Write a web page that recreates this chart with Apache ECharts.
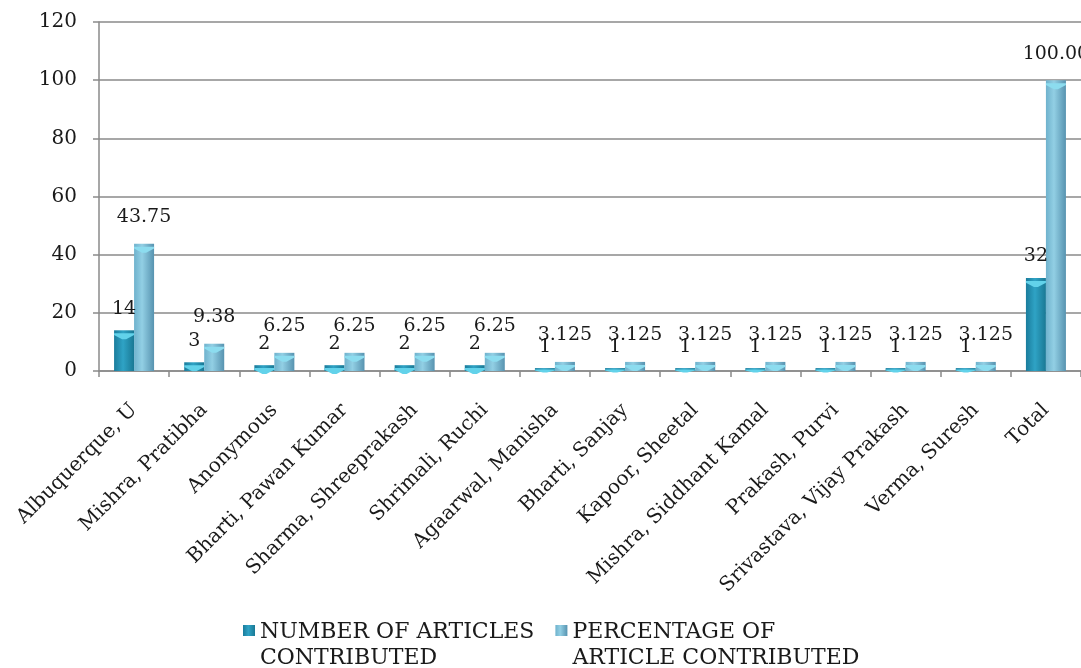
<!DOCTYPE html>
<html>
<head>
<meta charset="utf-8">
<script src="https://cdn.jsdelivr.net/npm/echarts@6/dist/echarts.min.js"></script>
<style>
html,body{margin:0;padding:0;background:#fff;}
#chart{width:1081px;height:668px;}
</style>
</head>
<body>
<div id="chart"></div>
<script>
var categories = ['Albuquerque, U','Mishra, Pratibha','Anonymous','Bharti, Pawan Kumar','Sharma, Shreeprakash','Shrimali, Ruchi','Agaarwal, Manisha','Bharti, Sanjay','Kapoor, Sheetal','Mishra, Siddhant Kamal','Prakash, Purvi','Srivastava, Vijay Prakash','Verma, Suresh','Total'];
var articleCounts = [14,3,2,2,2,2,1,1,1,1,1,1,1,32];
var articlePercents = [43.75,9.38,6.25,6.25,6.25,6.25,3.125,3.125,3.125,3.125,3.125,3.125,3.125,100];
var seriesNames = ['NUMBER OF ARTICLES CONTRIBUTED','PERCENTAGE OF ARTICLE CONTRIBUTED'];
var legendLines = {
  'NUMBER OF ARTICLES CONTRIBUTED': 'NUMBER OF ARTICLES\nCONTRIBUTED',
  'PERCENTAGE OF ARTICLE CONTRIBUTED': 'PERCENTAGE OF\nARTICLE CONTRIBUTED'
};
var yTicks = {min:0, max:120, interval:20};

var FONT = 'DejaVu Serif';
var chart = echarts.init(document.getElementById('chart'), null, {renderer:'canvas'});

function hGrad(stops){
  return new echarts.graphic.LinearGradient(0,0,1,0, stops.map(function(s){return {offset:s[0], color:s[1]};}));
}
var countColor = hGrad([[0,'#1a7c9c'],[0.45,'#2fa3c5'],[1,'#197894']]);
var pctColor = hGrad([[0,'#6fb2cd'],[0.4,'#92cfe4'],[1,'#5793b0']]);
var capPath = 'path://M0,0 L20,0 L20,2 L12,7 L8,7 L0,2 Z';
// legend icon: square at the top of a tall, otherwise empty box (so it sits on the first text line)
var legendIcon = 'path://M0,0 L12,0 L12,11 L0,11 Z M0,40 L0.01,40 L0,39.99 Z';

var option = {
  backgroundColor:'#ffffff',
  animation:false,
  textStyle:{fontFamily:FONT},
  grid:{left:99, top:22, width:988, height:349, containLabel:false},
  legend:{
    data:seriesNames,
    left:238, top:614,
    itemWidth:12, itemHeight:40, itemGap:21,
    icon:legendIcon,
    formatter:function(n){return legendLines[n];},
    textStyle:{fontFamily:FONT, fontSize:22, color:'#1a1a1a', lineHeight:26}
  },
  xAxis:{
    type:'category',
    data:categories,
    boundaryGap:true,
    axisLine:{lineStyle:{color:'#8a8a8a', width:1.5}},
    axisTick:{show:true, alignWithLabel:false, length:6, lineStyle:{color:'#8a8a8a', width:1.5}},
    axisLabel:{rotate:45, interval:0, margin:36, fontFamily:FONT, fontSize:20, color:'#1a1a1a'}
  },
  yAxis:{
    type:'value',
    min:yTicks.min, max:yTicks.max, interval:yTicks.interval,
    axisLine:{show:true, lineStyle:{color:'#8a8a8a', width:1.5}},
    axisTick:{show:true, length:6, lineStyle:{color:'#8a8a8a', width:1.5}},
    splitLine:{lineStyle:{color:'#8a8a8a', width:1.5}},
    axisLabel:{margin:22, fontFamily:FONT, fontSize:20, color:'#1a1a1a'}
  },
  series:[
    {
      name:seriesNames[0], type:'bar', data:articleCounts,
      barWidth:20, barGap:'0%',
      itemStyle:{color:countColor},
      label:{show:true, position:'top', distance:12, fontFamily:FONT, fontSize:19, color:'#1a1a1a'}
    },
    {
      name:seriesNames[1], type:'bar', data:articlePercents,
      barWidth:20, barGap:'0%',
      itemStyle:{color:pctColor},
      label:{show:true, position:'top', distance:17, fontFamily:FONT, fontSize:19, color:'#1a1a1a',
        formatter:function(p){return p.value === 100 ? '100.00' : String(p.value);}}
    }
  ]
};
chart.setOption(option);

// caps on top of the bars, sized through the y axis scale so they never exceed the bar
function capData(values){
  var base = chart.convertToPixel({yAxisIndex:0}, 0);
  return values.map(function(v){
    var h = base - chart.convertToPixel({yAxisIndex:0}, v);
    return {value:v, symbolSize:[20, Math.max(1, Math.min(6, h))]};
  });
}
chart.setOption({
  series:[
    {},{},
    {
      name:'cap1', type:'pictorialBar', data:capData(articleCounts),
      symbol:capPath, symbolPosition:'end', symbolOffset:[-10,'50%'],
      itemStyle:{color:'#62d2ea'}, z:5, silent:true, label:{show:false}
    },
    {
      name:'cap2', type:'pictorialBar', data:capData(articlePercents),
      symbol:capPath, symbolPosition:'end', symbolOffset:[10,'50%'],
      itemStyle:{color:'#8cdcef'}, z:5, silent:true, label:{show:false}
    }
  ]
});
</script>
</body>
</html>
